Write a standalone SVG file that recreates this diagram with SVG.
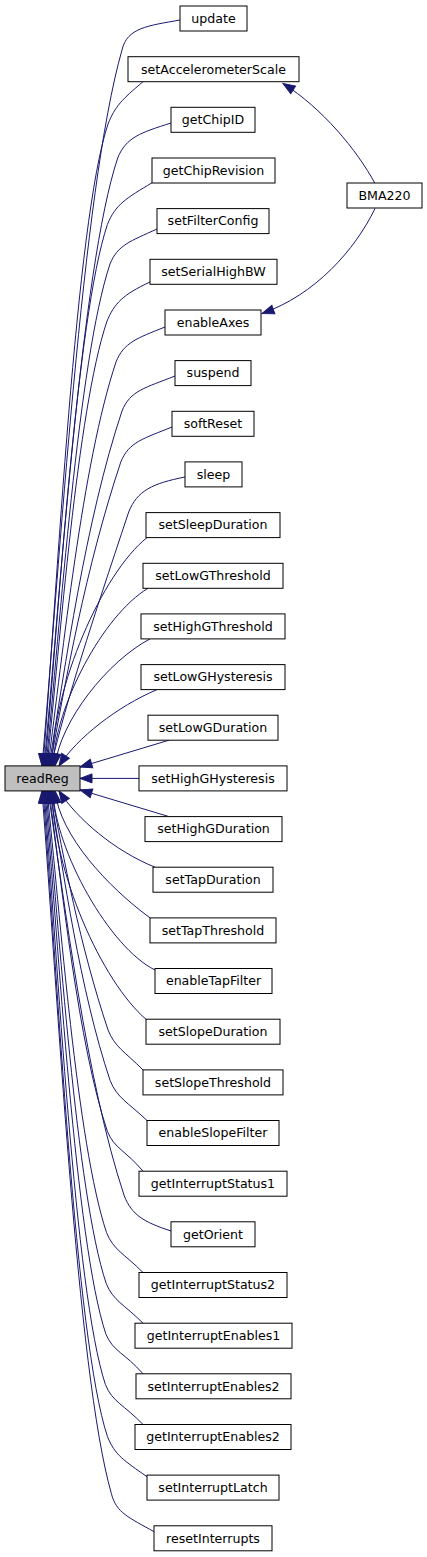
<svg xmlns="http://www.w3.org/2000/svg" width="427" height="1557" viewBox="0 0 427 1557">
<style>
.n rect{fill:#ffffff;stroke:#000000;stroke-width:1}
.n text{font-family:"DejaVu Sans",sans-serif;font-size:12.6px;text-anchor:middle;fill:#000000}
#node-readReg rect{fill:#bfbfbf}
.e{fill:none;stroke:#191970;stroke-width:1;marker-end:url(#ah)}
</style>
<defs>
<marker id="ah" markerUnits="userSpaceOnUse" markerWidth="14" markerHeight="11" refX="12" refY="4.5" orient="auto" overflow="visible">
<path d="M0,0 L12,4.5 L0,9 Z" fill="#191970" stroke="#191970" stroke-width="1"/>
</marker>
</defs>
<rect x="0" y="0" width="427" height="1557" fill="#ffffff"/>
<g id="edges">
<path class="e" d="M180,20 C147.9,25.8 127,27.7 122,50 C82,190 59.6,565.4 42,765.9"/>
<path class="e" d="M143,81.7 C122,99.5 115.1,106.2 108,124 C75.5,221.5 57.3,586.2 43,765.9"/>
<path class="e" d="M171,123 C140.6,132.7 126,137.3 117.7,158 C80.9,268.6 60.2,595.7 44,765.9"/>
<path class="e" d="M152.5,182.5 C126.1,198.3 115.4,204.5 107.4,224.5 C76.2,318.1 58.7,614.3 45,765.9"/>
<path class="e" d="M157,229 C130.4,241.2 117.6,245 110,264 C78,360 60.1,625.4 46,765.9"/>
<path class="e" d="M150,282 C123.3,294.5 114.3,302.9 106.7,322 C76.9,411.6 60.1,641.6 47,765.9"/>
<path class="e" d="M165,327 C137.1,338.2 123.8,342.4 116,362 C82,464 63,652.8 48,765.9"/>
<path class="e" d="M175,376 C145.5,387.8 130.2,390.4 122,411 C85.5,520.5 65.1,666.5 49,765.9"/>
<path class="e" d="M172,427 C143.3,438.7 128.9,441.9 120.8,462 C85.4,568.2 65.6,680.8 50,765.9"/>
<path class="e" d="M185,477 C152.4,483.5 137.3,490.5 128.7,512 C89.9,628.6 68.1,694.8 51,765.9"/>
<path class="e" d="M147,537.6 C102,573.6 53,686 52,765.9"/>
<path class="e" d="M148,588.3 C103,615.3 55,706 53,765.9"/>
<path class="e" d="M150,638.9 C108,660.9 60,721 55,765.9"/>
<path class="e" d="M157,689.6 C117,706.6 77,738 59,765.9"/>
<path class="e" d="M169,740.2 L80,767"/>
<path class="e" d="M139,778.4 L80,778.4"/>
<path class="e" d="M169,816.6 L80,789.8"/>
<path class="e" d="M155,867.2 C115,851.2 77,818.9 59,790.9"/>
<path class="e" d="M150,917.9 C108,886.9 60,835.9 55,790.9"/>
<path class="e" d="M155,970 C110,948 55,850.9 53,790.9"/>
<path class="e" d="M146.5,1019.7 C101.5,981.5 53,870.9 52,790.9"/>
<path class="e" d="M143,1069.9 C124.2,1051.1 114.9,1047.2 108,1029.9 C79.5,944.4 63.5,857.8 51,790.9"/>
<path class="e" d="M147,1120.5 C127.3,1101.8 117.2,1098.1 110.1,1080.5 C80,990.3 63.2,872 50,790.9"/>
<path class="e" d="M143,1171.2 C125.8,1150.6 114.3,1148.6 107.3,1131.2 C78.2,1043.7 61.8,886.2 49,790.9"/>
<path class="e" d="M171,1231 C143.3,1221.9 131.9,1214.9 124.3,1196 C86.2,1081.5 64.8,904.3 48,790.9"/>
<path class="e" d="M143,1272.5 C123.8,1253.3 113.5,1250.1 106.5,1232.5 C76.8,1143.2 60.1,914.5 47,790.9"/>
<path class="e" d="M143,1323.2 C123.8,1304 113.1,1300.8 106.1,1283.2 C76,1193 59.2,928.7 46,790.9"/>
<path class="e" d="M143,1373.8 C125.1,1353.2 112.9,1351.5 105.8,1333.8 C75.4,1242.6 58.4,942.9 45,790.9"/>
<path class="e" d="M143,1424.5 C124,1404.6 112.5,1402.3 105.4,1384.5 C74.7,1292.4 57.5,957.1 44,790.9"/>
<path class="e" d="M147,1476.7 C124,1460.6 114.8,1455 107.5,1436.7 C75.2,1340 57.2,971.7 43,790.9"/>
<path class="e" d="M154,1531.7 C129.2,1517.6 116.3,1513.1 111.4,1493.7 C76.7,1372.2 57.3,987.7 42,790.9"/>
<path class="e" d="M375,183.5 C357,150 322,108 283,83.5"/>
<path class="e" d="M375,208.5 C355,250 315,295 262,313.5"/>
</g>
<g id="node-readReg" class="n"><rect x="5" y="765.9" width="75" height="25"/><text x="42.5" y="782.7">readReg</text></g>
<g id="node-BMA220" class="n"><rect x="347" y="183" width="75" height="25"/><text x="384.5" y="199.8">BMA220</text></g>
<g id="node-update" class="n"><rect x="180" y="6" width="67" height="25"/><text x="213.5" y="22.8">update</text></g>
<g id="node-setAccelerometerScale" class="n"><rect x="128" y="56.7" width="171" height="25"/><text x="213.5" y="73.5">setAccelerometerScale</text></g>
<g id="node-getChipID" class="n"><rect x="171" y="107.3" width="84" height="25"/><text x="213" y="124.1">getChipID</text></g>
<g id="node-getChipRevision" class="n"><rect x="152" y="158" width="123" height="25"/><text x="213.5" y="174.8">getChipRevision</text></g>
<g id="node-setFilterConfig" class="n"><rect x="157" y="208.6" width="112" height="25"/><text x="213" y="225.4">setFilterConfig</text></g>
<g id="node-setSerialHighBW" class="n"><rect x="150" y="259.3" width="127" height="25"/><text x="213.5" y="276.1">setSerialHighBW</text></g>
<g id="node-enableAxes" class="n"><rect x="165" y="310" width="96" height="25"/><text x="213" y="326.8">enableAxes</text></g>
<g id="node-suspend" class="n"><rect x="175" y="360.6" width="76" height="25"/><text x="213" y="377.4">suspend</text></g>
<g id="node-softReset" class="n"><rect x="172" y="411.3" width="82" height="25"/><text x="213" y="428.1">softReset</text></g>
<g id="node-sleep" class="n"><rect x="185" y="461.9" width="57" height="25"/><text x="213.5" y="478.7">sleep</text></g>
<g id="node-setSleepDuration" class="n"><rect x="146" y="512.6" width="134" height="25"/><text x="213" y="529.4">setSleepDuration</text></g>
<g id="node-setLowGThreshold" class="n"><rect x="143" y="563.3" width="140" height="25"/><text x="213" y="580.1">setLowGThreshold</text></g>
<g id="node-setHighGThreshold" class="n"><rect x="141" y="613.9" width="144" height="25"/><text x="213" y="630.7">setHighGThreshold</text></g>
<g id="node-setLowGHysteresis" class="n"><rect x="141" y="664.6" width="144" height="25"/><text x="213" y="681.4">setLowGHysteresis</text></g>
<g id="node-setLowGDuration" class="n"><rect x="148" y="715.2" width="130" height="25"/><text x="213" y="732">setLowGDuration</text></g>
<g id="node-setHighGHysteresis" class="n"><rect x="139" y="765.9" width="148" height="25"/><text x="213" y="782.7">setHighGHysteresis</text></g>
<g id="node-setHighGDuration" class="n"><rect x="145" y="816.6" width="137" height="25"/><text x="213.5" y="833.4">setHighGDuration</text></g>
<g id="node-setTapDuration" class="n"><rect x="153" y="867.2" width="120" height="25"/><text x="213" y="884">setTapDuration</text></g>
<g id="node-setTapThreshold" class="n"><rect x="150" y="917.9" width="126" height="25"/><text x="213" y="934.7">setTapThreshold</text></g>
<g id="node-enableTapFilter" class="n"><rect x="155" y="968.5" width="117" height="25"/><text x="213.5" y="985.3">enableTapFilter</text></g>
<g id="node-setSlopeDuration" class="n"><rect x="146" y="1019.2" width="134" height="25"/><text x="213" y="1036">setSlopeDuration</text></g>
<g id="node-setSlopeThreshold" class="n"><rect x="143" y="1069.9" width="140" height="25"/><text x="213" y="1086.7">setSlopeThreshold</text></g>
<g id="node-enableSlopeFilter" class="n"><rect x="147" y="1120.5" width="132" height="25"/><text x="213" y="1137.3">enableSlopeFilter</text></g>
<g id="node-getInterruptStatus1" class="n"><rect x="139" y="1171.2" width="148" height="25"/><text x="213" y="1188">getInterruptStatus1</text></g>
<g id="node-getOrient" class="n"><rect x="171" y="1221.8" width="84" height="25"/><text x="213" y="1238.6">getOrient</text></g>
<g id="node-getInterruptStatus2" class="n"><rect x="139" y="1272.5" width="148" height="25"/><text x="213" y="1289.3">getInterruptStatus2</text></g>
<g id="node-getInterruptEnables1" class="n"><rect x="135" y="1323.2" width="157" height="25"/><text x="213.5" y="1340">getInterruptEnables1</text></g>
<g id="node-setInterruptEnables2" class="n"><rect x="136" y="1373.8" width="155" height="25"/><text x="213.5" y="1390.6">setInterruptEnables2</text></g>
<g id="node-getInterruptEnables2" class="n"><rect x="135" y="1424.5" width="156" height="25"/><text x="213" y="1441.3">getInterruptEnables2</text></g>
<g id="node-setInterruptLatch" class="n"><rect x="147" y="1475.1" width="132" height="25"/><text x="213" y="1491.9">setInterruptLatch</text></g>
<g id="node-resetInterrupts" class="n"><rect x="154" y="1525.8" width="118" height="25"/><text x="213" y="1542.6">resetInterrupts</text></g>
</svg>
